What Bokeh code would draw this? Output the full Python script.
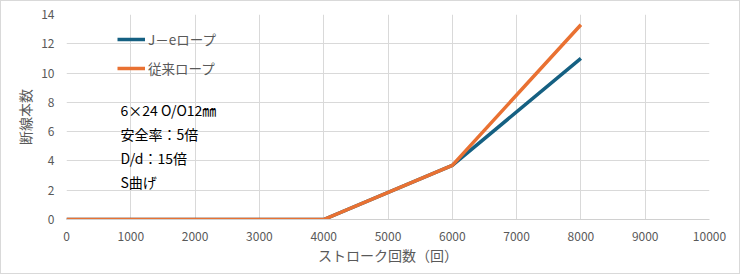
from bokeh.plotting import figure
from bokeh.models import Legend, LegendItem, Label, FixedTicker, Range1d
from bokeh.embed import file_html
from bokeh.resources import INLINE

# data
strokes = [0, 2000, 4000, 6000, 8000]
je_rope = [0, 0, 0, 3.7, 11.0]
conv_rope = [0, 0, 0, 3.7, 13.3]
series_names = ["J－eロープ", "従来ロープ"]
x_ticks = list(range(0, 10001, 1000))
y_ticks = list(range(0, 15, 2))
notes = ["6×24 O/O12㎜", "安全率：5倍", "D/d：15倍", "S曲げ"]

FONT = "Noto Sans CJK JP"
GRAY = "#595959"

p = figure(width=740, height=274, output_backend="svg", toolbar_location=None,
           x_range=Range1d(0, 10000), y_range=Range1d(0, 14),
           min_border_left=65, min_border_right=32, min_border_top=13, min_border_bottom=56)
p.styles = {"border": "1px solid #d9d9d9"}
p.outline_line_color = None
p.background_fill_color = "white"
p.border_fill_color = "white"

p.xaxis.ticker = FixedTicker(ticks=x_ticks)
p.yaxis.ticker = FixedTicker(ticks=y_ticks)
for ax in (p.xaxis[0], p.yaxis[0]):
    ax.major_tick_line_color = None
    ax.minor_tick_line_color = None
    ax.major_tick_in = 0
    ax.major_tick_out = 0
    ax.minor_tick_in = 0
    ax.minor_tick_out = 0
    ax.major_label_text_color = GRAY
    ax.major_label_text_font = FONT
    ax.major_label_text_font_size = "12px"
    ax.axis_label_text_color = GRAY
    ax.axis_label_text_font = FONT
    ax.axis_label_text_font_size = "14px"
    ax.axis_label_text_font_style = "normal"
p.xaxis.axis_line_color = "#d0d0d0"
p.yaxis.axis_line_color = None
p.xaxis.major_label_standoff = 12
p.yaxis.major_label_standoff = 12
p.xaxis.axis_label = "ストローク回数（回）"
p.yaxis.axis_label = "断線本数"
p.xaxis.axis_label_standoff = 1
p.yaxis.axis_label_standoff = 3

p.xgrid.ticker = FixedTicker(ticks=x_ticks)
p.ygrid.ticker = FixedTicker(ticks=y_ticks)
p.xgrid.grid_line_color = "#d9d9d9"
p.ygrid.grid_line_color = "#d9d9d9"
p.xgrid.grid_line_width = 1
p.ygrid.grid_line_width = 1

r1 = p.line(strokes, je_rope, line_color="#156082", line_width=3.5)
r2 = p.line(strokes, conv_rope, line_color="#E97132", line_width=3.5)

legend = Legend(items=[LegendItem(label=series_names[0], renderers=[r1]),
                       LegendItem(label=series_names[1], renderers=[r2])],
                location=(51, 141), padding=0, margin=0, spacing=9,
                glyph_width=28, glyph_height=20, label_height=20,
                label_standoff=3,
                label_text_color=GRAY, label_text_font=FONT,
                label_text_font_size="13.5px",
                border_line_color=None, background_fill_alpha=0)
p.add_layout(legend, "center")

for i, t in enumerate(notes):
    p.add_layout(Label(x=54, y=205 - 95 - i * 24.3, x_units="screen", y_units="screen",
                       text=t, text_font=FONT, text_font_size="14px",
                       text_color="black", text_baseline="middle"))

open("out.html", "w").write(file_html(p, INLINE))
